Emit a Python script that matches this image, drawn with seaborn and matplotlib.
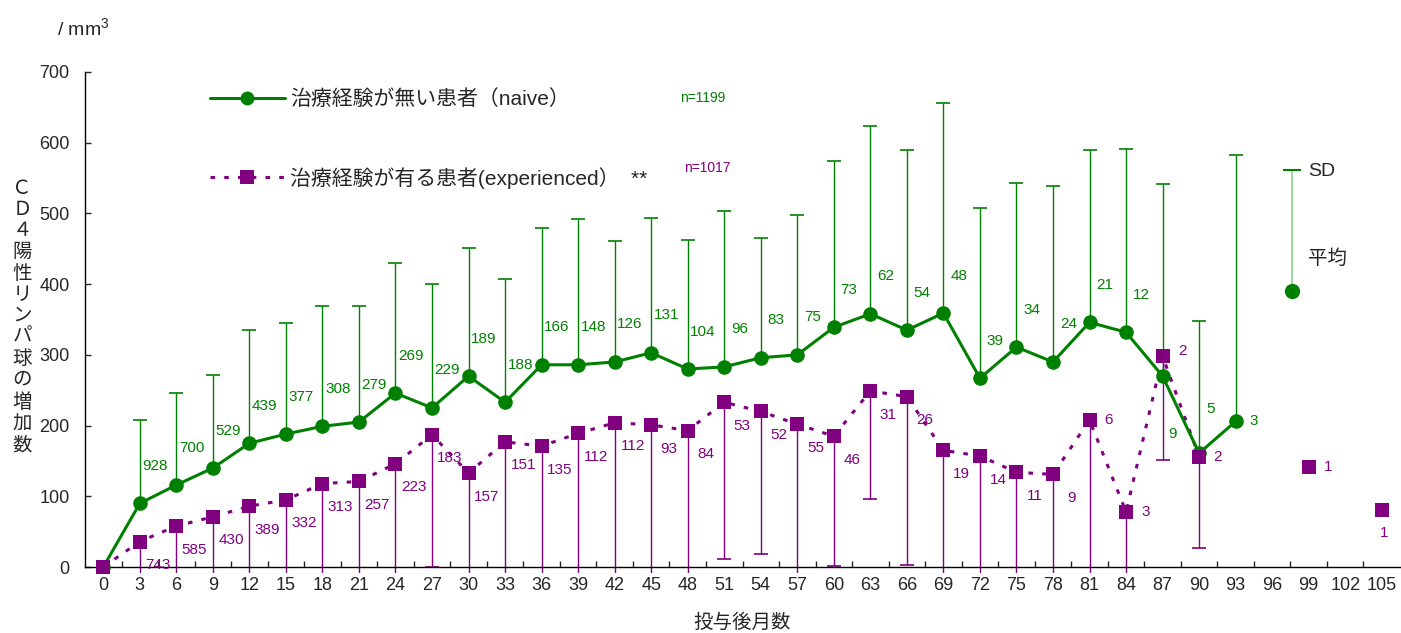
import numpy as np
import pandas as pd
import matplotlib
matplotlib.use("Agg")
import matplotlib.pyplot as plt
from matplotlib.lines import Line2D
import seaborn as sns

nan = np.nan

# データ
months = list(range(0, 106, 3))

naive_mean = [0, 90, 116, 140, 175, 188, 199, 205, 246, 225,
              270, 233, 286, 286, 290, 303, 280, 283, 296, 300,
              339, 358, 335, 359, 267, 311, 290, 346, 332, 270,
              161, 206, nan, nan, nan, nan]
naive_sd = [nan, 118, 130, 132, 160, 157, 170, 164, 184, 175,
            181, 174, 193, 206, 171, 191, 182, 220, 169, 198,
            235, 266, 255, 297, 241, 232, 249, 244, 259, 272,
            187, 377, nan, nan, nan, nan]
naive_n = [None, 928, 700, 529, 439, 377, 308, 279, 269, 229,
           189, 188, 166, 148, 126, 131, 104, 96, 83, 75,
           73, 62, 54, 48, 39, 34, 24, 21, 12, 9,
           5, 3, None, None, None, None]

exp_mean = [0, 36, 58, 71, 86, 95, 118, 121, 146, 187,
            133, 177, 171, 189, 204, 201, 193, 233, 220, 202,
            185, 249, 241, 165, 157, 134, 131, 208, 78, 298,
            156, nan, nan, 141, nan, 81]
exp_sd = [nan, 150, 170, 180, 190, 195, 200, 205, 210, 187,
          200, 210, 215, 220, 225, 230, 225, 222, 202, 230,
          184, 153, 238, 200, 190, 170, 160, 240, 110, 147,
          129, nan, nan, nan, nan, nan]
exp_n = [None, 743, 585, 430, 389, 332, 313, 257, 223, 183,
         157, 151, 135, 112, 112, 93, 84, 53, 52, 55,
         46, 31, 26, 19, 14, 11, 9, 6, 3, 2,
         2, None, None, 1, None, 1]

label_naive = "治療経験が無い患者（naive）"
label_exp = "治療経験が有る患者(experienced）  **"

green = "#008000"
purple = "#800080"

df = pd.DataFrame({"month": months, "naive": naive_mean, "naive_sd": naive_sd,
                   "exp": exp_mean, "exp_sd": exp_sd})

sns.set_style("white")
plt.rcParams['font.family'] = ['Liberation Sans', 'Noto Sans CJK JP']
plt.rcParams['mathtext.default'] = 'regular'

fig = plt.figure(figsize=(14.01, 6.33), dpi=100)
ax = fig.add_axes([85 / 1401, 1 - 573.4 / 633, 1315 / 1401, 501.4 / 633])

# SD（naive は上側、experienced は下側）
nv = df.dropna(subset=["naive_sd"])
nv_top = nv["naive"] + nv["naive_sd"]
ax.vlines(nv["month"], nv["naive"], nv_top, color=green, lw=1, zorder=2)
ax.plot(nv["month"], nv_top, ls="none", marker="_", markersize=10,
        markeredgewidth=1.2, color=green, zorder=2)
ex = df.dropna(subset=["exp_sd"])
ex_bot = ex["exp"] - ex["exp_sd"]
ax.vlines(ex["month"], ex_bot, ex["exp"], color=purple, lw=1, zorder=2)
ax.plot(ex["month"], ex_bot, ls="none", marker="_", markersize=10,
        markeredgewidth=1.2, color=purple, zorder=2)

# 平均
nv_line = df.dropna(subset=["naive"])
sns.lineplot(data=nv_line, x="month", y="naive", ax=ax, color=green, lw=2.2,
             marker="o", markersize=10.5, markeredgewidth=0, zorder=4)
ex_pts = df.dropna(subset=["exp"])
ex_line = ex_pts[ex_pts["month"] <= 90]
sns.lineplot(data=ex_line, x="month", y="exp", ax=ax, color=purple, lw=2.2,
             linestyle=(0, (1.5, 3)), zorder=3)
sns.scatterplot(data=ex_pts, x="month", y="exp", ax=ax, color=purple,
                marker="s", s=110, linewidth=0, zorder=5)

# 例数ラベル
g_off = {87: (7, -42), 90: (8, 32), 93: (13, 0)}
p_off = {81: (14, 0), 84: (14, 0), 87: (14, 4), 90: (13, 0), 99: (14, 0), 105: (2, -17)}
for m, y, n in zip(months, naive_mean, naive_n):
    if n is None:
        continue
    ax.annotate(str(n), (m, y), xytext=g_off.get(m, (11, 27)), textcoords="offset points",
                ha="center", va="center", fontsize=11, color=green)
for m, y, n in zip(months, exp_mean, exp_n):
    if n is None:
        continue
    ax.annotate(str(n), (m, y), xytext=p_off.get(m, (13, -17)), textcoords="offset points",
                ha="center", va="center", fontsize=11, color=purple)

# 軸
ax.set_xlim(-1.5, 106.5)
ax.set_ylim(-9, 700)
ax.spines['top'].set_visible(False)
ax.spines['right'].set_visible(False)
ax.spines['bottom'].set_position(('data', 0))
ax.spines['left'].set_bounds(0, 700)
for s in ['left', 'bottom']:
    ax.spines[s].set_color('black')
    ax.spines[s].set_linewidth(1)
ax.set_xticks(months)
ax.set_xticklabels([str(m) for m in months])
ax.set_xticks(np.arange(1.5, 105, 3), minor=True)
ax.set_yticks(range(0, 701, 100))
ax.tick_params(axis='x', which='major', length=0, pad=7, labelsize=13, bottom=True)
ax.tick_params(axis='x', which='minor', direction='in', length=4, width=1, bottom=True)
ax.tick_params(axis='y', direction='in', length=4, width=1, pad=11, labelsize=13, left=True)
ax.set_xlabel("投与後月数", fontsize=14, labelpad=14)
ax.set_ylabel("")

ylab = "\n".join("ＣＤ４陽性リンパ球の増加数")
fig.text(0.0157, 0.4976, ylab, fontsize=14, ha="center", va="center", linespacing=1.3)
fig.text(0.041, 0.955, "/ mm$^{3}$", fontsize=14, ha="left", va="center")

# 凡例
handles = [Line2D([], [], color=green, lw=2.2, marker="o", markersize=10, markeredgewidth=0),
           Line2D([], [], color=purple, lw=2.2, linestyle=(0, (1.5, 3)), marker="s",
                  markersize=10, markeredgewidth=0)]
ax.legend(handles, [label_naive, label_exp], loc="upper left", bbox_to_anchor=(0.095, 0.965),
          frameon=False, fontsize=15, handlelength=3.6, handletextpad=0.25,
          labelspacing=2.75, borderaxespad=0, borderpad=0)
ax.text(0.47, 0.948, "n=1199", transform=ax.transAxes, fontsize=10, color=green,
        ha="center", va="center")
ax.text(0.473, 0.809, "n=1017", transform=ax.transAxes, fontsize=10, color=purple,
        ha="center", va="center")

# SD・平均の見本
sx, sy0, sy1 = 0.918, 0.563, 0.805
ax.plot([sx, sx], [sy0, sy1], transform=ax.transAxes, color="#8fcf8f", lw=1.2, clip_on=False)
ax.plot([sx], [sy1], transform=ax.transAxes, marker="_", markersize=13, markeredgewidth=1.5,
        color=green, clip_on=False)
ax.plot([sx], [sy0], transform=ax.transAxes, marker="o", markersize=11, markeredgewidth=0,
        color=green, clip_on=False)
ax.text(0.93, 0.801, "SD", transform=ax.transAxes, fontsize=14, ha="left", va="center")
ax.text(0.93, 0.627, "平均", transform=ax.transAxes, fontsize=14, ha="left", va="center")

fig.savefig("out.png", dpi=100)
